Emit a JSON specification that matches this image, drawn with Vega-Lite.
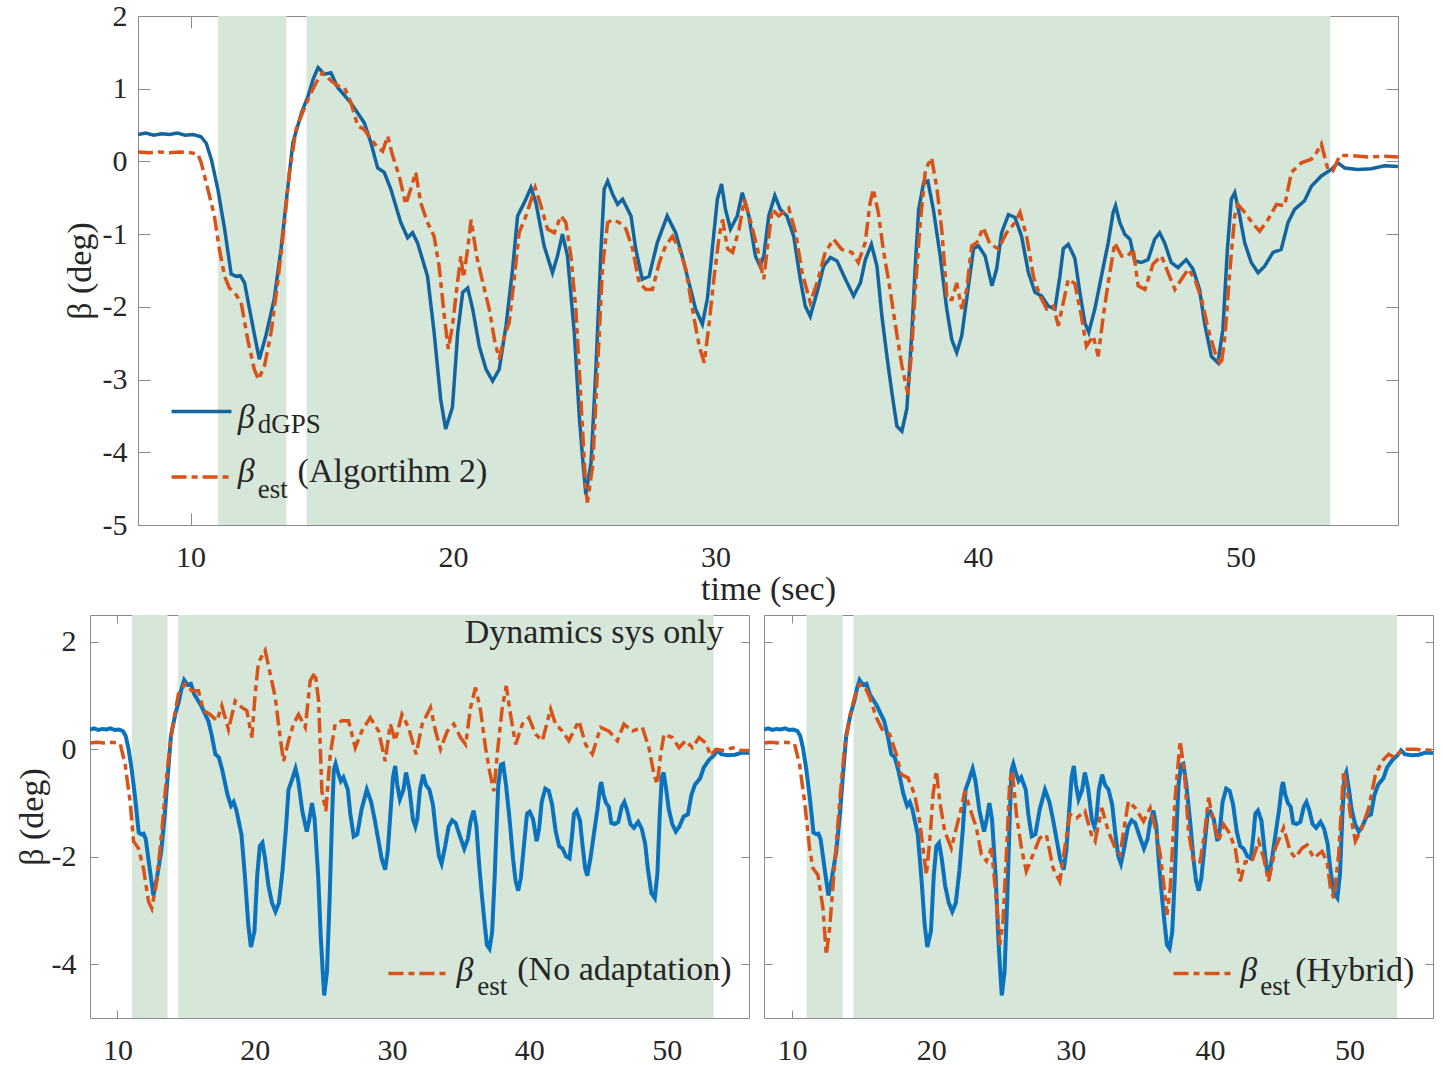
{
"$schema":"https://vega.github.io/schema/vega-lite/v6.json",
"background":"white",
"padding":{"top":1,"left":0,"right":0,"bottom":0},
"config":{"view":{"stroke":null},"font":"Liberation Serif",
"axis":{"domain":true,"domainColor":"#8a8a8a","domainWidth":1,"grid":false,"tickColor":"#8a8a8a","tickWidth":1,"labelFont":"Liberation Serif","labelFontSize":30,"labelColor":"#262626","titleFont":"Liberation Serif","titleFontSize":34,"titleFontWeight":"normal","titleColor":"#262626","labelFlush":false,"labelOverlap":false,"zindex":1,"labelExpr":"replace(datum.label,'\u2212','-')"}},
"datasets":{
"bands":[{"start":11.05,"end":13.65},{"start":14.42,"end":53.42}],
"dgps":[{"t":8.0,"b":0.37},{"t":8.3,"b":0.39},{"t":8.6,"b":0.36},{"t":8.9,"b":0.38},{"t":9.2,"b":0.37},{"t":9.5,"b":0.39},{"t":9.8,"b":0.36},{"t":10.1,"b":0.37},{"t":10.4,"b":0.34},{"t":10.6,"b":0.25},{"t":10.8,"b":0.02},{"t":11.04,"b":-0.38},{"t":11.3,"b":-0.93},{"t":11.55,"b":-1.55},{"t":11.75,"b":-1.58},{"t":11.9,"b":-1.57},{"t":12.06,"b":-1.67},{"t":12.37,"b":-2.26},{"t":12.62,"b":-2.72},{"t":12.87,"b":-2.4},{"t":13.19,"b":-1.89},{"t":13.45,"b":-1.2},{"t":13.64,"b":-0.57},{"t":13.9,"b":0.26},{"t":14.23,"b":0.67},{"t":14.48,"b":0.9},{"t":14.67,"b":1.13},{"t":14.86,"b":1.29},{"t":15.1,"b":1.2},{"t":15.35,"b":1.22},{"t":15.6,"b":1.02},{"t":16.1,"b":0.81},{"t":16.62,"b":0.53},{"t":16.87,"b":0.26},{"t":17.13,"b":-0.09},{"t":17.38,"b":-0.15},{"t":17.63,"b":-0.38},{"t":18.01,"b":-0.84},{"t":18.27,"b":-1.05},{"t":18.46,"b":-0.98},{"t":18.65,"b":-1.12},{"t":19.03,"b":-1.58},{"t":19.28,"b":-2.35},{"t":19.53,"b":-3.27},{"t":19.72,"b":-3.68},{"t":19.98,"b":-3.38},{"t":20.18,"b":-2.35},{"t":20.37,"b":-1.8},{"t":20.56,"b":-1.74},{"t":20.75,"b":-2.03},{"t":21.0,"b":-2.54},{"t":21.26,"b":-2.86},{"t":21.51,"b":-3.02},{"t":21.76,"b":-2.86},{"t":22.02,"b":-2.26},{"t":22.27,"b":-1.48},{"t":22.46,"b":-0.75},{"t":22.71,"b":-0.57},{"t":22.97,"b":-0.36},{"t":23.16,"b":-0.57},{"t":23.47,"b":-1.16},{"t":23.79,"b":-1.53},{"t":23.98,"b":-1.3},{"t":24.17,"b":-1.0},{"t":24.36,"b":-1.3},{"t":24.62,"b":-2.35},{"t":24.81,"b":-3.5},{"t":24.94,"b":-4.09},{"t":25.06,"b":-4.58},{"t":25.26,"b":-4.14},{"t":25.45,"b":-2.81},{"t":25.64,"b":-1.2},{"t":25.76,"b":-0.38},{"t":25.89,"b":-0.27},{"t":26.08,"b":-0.45},{"t":26.27,"b":-0.59},{"t":26.46,"b":-0.52},{"t":26.78,"b":-0.75},{"t":26.96,"b":-1.2},{"t":27.21,"b":-1.62},{"t":27.47,"b":-1.58},{"t":27.78,"b":-1.12},{"t":28.16,"b":-0.75},{"t":28.48,"b":-0.98},{"t":28.73,"b":-1.3},{"t":28.99,"b":-1.67},{"t":29.24,"b":-2.03},{"t":29.5,"b":-2.24},{"t":29.69,"b":-1.89},{"t":29.88,"b":-1.2},{"t":30.07,"b":-0.52},{"t":30.23,"b":-0.31},{"t":30.38,"b":-0.66},{"t":30.57,"b":-0.93},{"t":30.83,"b":-0.75},{"t":31.02,"b":-0.43},{"t":31.27,"b":-0.75},{"t":31.52,"b":-1.3},{"t":31.7,"b":-1.44},{"t":31.84,"b":-1.3},{"t":32.03,"b":-0.75},{"t":32.26,"b":-0.47},{"t":32.47,"b":-0.66},{"t":32.72,"b":-0.75},{"t":32.98,"b":-1.03},{"t":33.23,"b":-1.62},{"t":33.42,"b":-1.99},{"t":33.61,"b":-2.13},{"t":33.87,"b":-1.8},{"t":34.12,"b":-1.44},{"t":34.38,"b":-1.32},{"t":34.63,"b":-1.37},{"t":34.95,"b":-1.62},{"t":35.26,"b":-1.85},{"t":35.52,"b":-1.67},{"t":35.71,"b":-1.35},{"t":35.94,"b":-1.14},{"t":36.15,"b":-1.44},{"t":36.34,"b":-2.13},{"t":36.53,"b":-2.68},{"t":36.72,"b":-3.18},{"t":36.91,"b":-3.64},{"t":37.1,"b":-3.71},{"t":37.29,"b":-3.4},{"t":37.48,"b":-2.35},{"t":37.61,"b":-1.44},{"t":37.74,"b":-0.66},{"t":37.93,"b":-0.29},{"t":38.09,"b":-0.27},{"t":38.3,"b":-0.66},{"t":38.56,"b":-1.3},{"t":38.81,"b":-2.03},{"t":39.0,"b":-2.45},{"t":39.19,"b":-2.63},{"t":39.38,"b":-2.4},{"t":39.57,"b":-1.89},{"t":39.83,"b":-1.2},{"t":40.02,"b":-1.16},{"t":40.27,"b":-1.3},{"t":40.53,"b":-1.71},{"t":40.71,"b":-1.48},{"t":40.9,"b":-0.98},{"t":41.16,"b":-0.73},{"t":41.41,"b":-0.77},{"t":41.66,"b":-1.03},{"t":41.92,"b":-1.53},{"t":42.17,"b":-1.8},{"t":42.42,"b":-1.85},{"t":42.68,"b":-1.99},{"t":42.93,"b":-2.03},{"t":43.12,"b":-1.58},{"t":43.25,"b":-1.2},{"t":43.44,"b":-1.14},{"t":43.69,"b":-1.33},{"t":43.88,"b":-1.8},{"t":44.07,"b":-2.22},{"t":44.22,"b":-2.35},{"t":44.45,"b":-2.03},{"t":44.7,"b":-1.58},{"t":44.96,"b":-1.12},{"t":45.15,"b":-0.7},{"t":45.24,"b":-0.61},{"t":45.4,"b":-0.84},{"t":45.59,"b":-1.0},{"t":45.79,"b":-1.07},{"t":45.97,"b":-1.37},{"t":46.22,"b":-1.39},{"t":46.48,"b":-1.35},{"t":46.73,"b":-1.07},{"t":46.92,"b":-0.98},{"t":47.11,"b":-1.12},{"t":47.36,"b":-1.39},{"t":47.62,"b":-1.46},{"t":47.93,"b":-1.35},{"t":48.19,"b":-1.48},{"t":48.44,"b":-1.76},{"t":48.63,"b":-2.22},{"t":48.89,"b":-2.68},{"t":49.14,"b":-2.77},{"t":49.33,"b":-2.31},{"t":49.5,"b":-1.21},{"t":49.65,"b":-0.52},{"t":49.78,"b":-0.43},{"t":49.97,"b":-0.75},{"t":50.16,"b":-1.12},{"t":50.41,"b":-1.39},{"t":50.67,"b":-1.53},{"t":50.92,"b":-1.44},{"t":51.24,"b":-1.25},{"t":51.55,"b":-1.21},{"t":51.81,"b":-0.84},{"t":52.06,"b":-0.66},{"t":52.44,"b":-0.54},{"t":52.7,"b":-0.34},{"t":53.08,"b":-0.2},{"t":53.46,"b":-0.11},{"t":53.71,"b":-0.02},{"t":53.97,"b":-0.09},{"t":54.47,"b":-0.11},{"t":54.98,"b":-0.1},{"t":55.49,"b":-0.06},{"t":56.0,"b":-0.07}],
"alg2":[{"t":8.0,"b":0.13},{"t":8.4,"b":0.12},{"t":8.8,"b":0.13},{"t":9.2,"b":0.12},{"t":9.6,"b":0.13},{"t":10.0,"b":0.12},{"t":10.28,"b":0.1},{"t":10.41,"b":-0.02},{"t":10.66,"b":-0.38},{"t":10.91,"b":-0.75},{"t":11.1,"b":-1.21},{"t":11.3,"b":-1.58},{"t":11.48,"b":-1.74},{"t":11.73,"b":-1.83},{"t":11.93,"b":-1.94},{"t":12.18,"b":-2.45},{"t":12.43,"b":-2.86},{"t":12.59,"b":-3.0},{"t":12.82,"b":-2.81},{"t":13.07,"b":-2.35},{"t":13.32,"b":-1.67},{"t":13.58,"b":-0.84},{"t":13.77,"b":-0.15},{"t":14.02,"b":0.44},{"t":14.27,"b":0.67},{"t":14.53,"b":0.9},{"t":14.78,"b":1.08},{"t":15.03,"b":1.22},{"t":15.29,"b":1.13},{"t":15.6,"b":1.04},{"t":15.86,"b":1.02},{"t":16.11,"b":0.81},{"t":16.37,"b":0.49},{"t":16.62,"b":0.44},{"t":16.87,"b":0.31},{"t":17.13,"b":0.19},{"t":17.32,"b":0.14},{"t":17.51,"b":0.35},{"t":17.7,"b":0.08},{"t":17.95,"b":-0.2},{"t":18.2,"b":-0.59},{"t":18.39,"b":-0.38},{"t":18.58,"b":-0.15},{"t":18.77,"b":-0.57},{"t":19.03,"b":-0.84},{"t":19.28,"b":-1.03},{"t":19.47,"b":-1.44},{"t":19.67,"b":-2.13},{"t":19.82,"b":-2.58},{"t":19.98,"b":-2.26},{"t":20.14,"b":-1.76},{"t":20.3,"b":-1.3},{"t":20.4,"b":-1.6},{"t":20.56,"b":-1.2},{"t":20.69,"b":-0.8},{"t":20.9,"b":-1.3},{"t":21.14,"b":-1.67},{"t":21.38,"b":-2.03},{"t":21.58,"b":-2.45},{"t":21.76,"b":-2.72},{"t":21.96,"b":-2.4},{"t":22.14,"b":-2.22},{"t":22.33,"b":-1.62},{"t":22.52,"b":-0.98},{"t":22.78,"b":-0.75},{"t":23.13,"b":-0.36},{"t":23.35,"b":-0.61},{"t":23.6,"b":-0.93},{"t":23.86,"b":-0.98},{"t":24.11,"b":-0.75},{"t":24.3,"b":-0.84},{"t":24.49,"b":-1.3},{"t":24.68,"b":-2.03},{"t":24.87,"b":-3.27},{"t":25.06,"b":-4.51},{"t":25.12,"b":-4.69},{"t":25.32,"b":-4.19},{"t":25.51,"b":-2.81},{"t":25.7,"b":-1.44},{"t":25.89,"b":-0.84},{"t":26.08,"b":-0.8},{"t":26.33,"b":-0.84},{"t":26.59,"b":-0.93},{"t":26.84,"b":-1.2},{"t":27.09,"b":-1.67},{"t":27.35,"b":-1.76},{"t":27.6,"b":-1.76},{"t":27.86,"b":-1.39},{"t":28.1,"b":-1.16},{"t":28.36,"b":-1.03},{"t":28.62,"b":-1.2},{"t":28.87,"b":-1.48},{"t":29.12,"b":-2.03},{"t":29.38,"b":-2.54},{"t":29.57,"b":-2.77},{"t":29.76,"b":-2.22},{"t":29.95,"b":-1.58},{"t":30.14,"b":-1.03},{"t":30.27,"b":-0.8},{"t":30.46,"b":-1.2},{"t":30.65,"b":-1.25},{"t":30.9,"b":-0.93},{"t":31.1,"b":-0.52},{"t":31.35,"b":-0.84},{"t":31.6,"b":-1.2},{"t":31.75,"b":-1.48},{"t":31.84,"b":-1.62},{"t":31.97,"b":-1.2},{"t":32.16,"b":-0.66},{"t":32.41,"b":-0.75},{"t":32.79,"b":-0.64},{"t":33.05,"b":-0.98},{"t":33.3,"b":-1.53},{"t":33.61,"b":-1.94},{"t":33.87,"b":-1.67},{"t":34.18,"b":-1.25},{"t":34.5,"b":-1.07},{"t":34.81,"b":-1.21},{"t":35.19,"b":-1.25},{"t":35.44,"b":-1.39},{"t":35.7,"b":-1.12},{"t":35.89,"b":-0.57},{"t":36.01,"b":-0.38},{"t":36.2,"b":-0.7},{"t":36.39,"b":-1.21},{"t":36.65,"b":-1.76},{"t":36.84,"b":-2.22},{"t":37.1,"b":-2.81},{"t":37.33,"b":-3.2},{"t":37.48,"b":-2.58},{"t":37.61,"b":-1.76},{"t":37.8,"b":-0.84},{"t":38.0,"b":-0.11},{"t":38.23,"b":0.05},{"t":38.44,"b":-0.38},{"t":38.63,"b":-0.98},{"t":38.82,"b":-1.9},{"t":39.01,"b":-1.9},{"t":39.19,"b":-1.67},{"t":39.38,"b":-2.03},{"t":39.57,"b":-1.76},{"t":39.76,"b":-1.16},{"t":39.95,"b":-1.12},{"t":40.2,"b":-0.91},{"t":40.46,"b":-1.14},{"t":40.78,"b":-1.2},{"t":41.09,"b":-0.98},{"t":41.41,"b":-0.84},{"t":41.6,"b":-0.7},{"t":41.85,"b":-1.03},{"t":42.11,"b":-1.58},{"t":42.36,"b":-1.85},{"t":42.62,"b":-2.03},{"t":42.87,"b":-1.99},{"t":43.06,"b":-2.26},{"t":43.25,"b":-1.94},{"t":43.44,"b":-1.62},{"t":43.69,"b":-1.68},{"t":43.94,"b":-2.13},{"t":44.13,"b":-2.54},{"t":44.39,"b":-2.4},{"t":44.58,"b":-2.68},{"t":44.77,"b":-2.13},{"t":44.96,"b":-1.67},{"t":45.21,"b":-1.12},{"t":45.47,"b":-1.3},{"t":45.72,"b":-1.3},{"t":45.91,"b":-1.2},{"t":46.1,"b":-1.71},{"t":46.36,"b":-1.76},{"t":46.67,"b":-1.41},{"t":46.99,"b":-1.3},{"t":47.24,"b":-1.53},{"t":47.5,"b":-1.76},{"t":47.75,"b":-1.62},{"t":48.01,"b":-1.48},{"t":48.26,"b":-1.62},{"t":48.52,"b":-1.9},{"t":48.77,"b":-2.31},{"t":49.03,"b":-2.63},{"t":49.26,"b":-2.81},{"t":49.41,"b":-2.4},{"t":49.6,"b":-1.48},{"t":49.78,"b":-0.75},{"t":49.9,"b":-0.59},{"t":50.16,"b":-0.7},{"t":50.48,"b":-0.86},{"t":50.73,"b":-0.96},{"t":51.05,"b":-0.8},{"t":51.37,"b":-0.59},{"t":51.68,"b":-0.61},{"t":51.94,"b":-0.15},{"t":52.32,"b":-0.02},{"t":52.7,"b":0.03},{"t":52.89,"b":0.12},{"t":53.08,"b":0.24},{"t":53.33,"b":-0.11},{"t":53.52,"b":-0.13},{"t":53.78,"b":0.08},{"t":54.22,"b":0.08},{"t":54.86,"b":0.06},{"t":55.49,"b":0.07},{"t":56.0,"b":0.06}],
"noadapt":[{"t":8.0,"b":0.12},{"t":8.5,"b":0.13},{"t":9.0,"b":0.12},{"t":9.5,"b":0.13},{"t":10.0,"b":0.12},{"t":10.2,"b":0.1},{"t":10.56,"b":-0.28},{"t":10.92,"b":-0.97},{"t":11.17,"b":-1.71},{"t":11.53,"b":-1.84},{"t":11.89,"b":-2.21},{"t":12.26,"b":-2.83},{"t":12.5,"b":-2.96},{"t":12.86,"b":-2.46},{"t":13.23,"b":-1.53},{"t":13.59,"b":-0.47},{"t":13.96,"b":0.34},{"t":14.44,"b":1.03},{"t":14.93,"b":1.22},{"t":15.41,"b":1.09},{"t":15.9,"b":1.09},{"t":16.27,"b":0.72},{"t":16.75,"b":0.65},{"t":17.24,"b":0.53},{"t":17.6,"b":0.81},{"t":18.09,"b":0.37},{"t":18.58,"b":0.9},{"t":19.06,"b":0.78},{"t":19.42,"b":0.72},{"t":19.79,"b":0.22},{"t":20.03,"b":1.03},{"t":20.27,"b":1.62},{"t":20.76,"b":1.84},{"t":21.13,"b":1.4},{"t":21.49,"b":0.97},{"t":21.85,"b":0.22},{"t":22.1,"b":-0.22},{"t":22.46,"b":0.16},{"t":22.82,"b":0.47},{"t":23.19,"b":0.65},{"t":23.68,"b":0.41},{"t":24.04,"b":1.28},{"t":24.4,"b":1.43},{"t":24.65,"b":0.9},{"t":24.89,"b":-0.78},{"t":25.18,"b":-1.15},{"t":25.5,"b":-0.09},{"t":25.86,"b":0.47},{"t":26.35,"b":0.53},{"t":26.83,"b":0.53},{"t":27.32,"b":0.03},{"t":27.8,"b":0.34},{"t":28.41,"b":0.59},{"t":29.02,"b":0.34},{"t":29.5,"b":-0.22},{"t":29.87,"b":0.47},{"t":30.23,"b":0.16},{"t":30.72,"b":0.65},{"t":31.2,"b":0.41},{"t":31.75,"b":-0.09},{"t":32.2,"b":0.47},{"t":32.8,"b":0.78},{"t":33.17,"b":0.34},{"t":33.53,"b":0.0},{"t":34.02,"b":0.34},{"t":34.5,"b":0.47},{"t":34.99,"b":0.22},{"t":35.36,"b":0.09},{"t":35.72,"b":0.78},{"t":36.08,"b":1.15},{"t":36.45,"b":0.72},{"t":36.81,"b":0.03},{"t":37.1,"b":-0.4},{"t":37.42,"b":-0.78},{"t":37.66,"b":-0.09},{"t":38.03,"b":0.78},{"t":38.32,"b":1.18},{"t":38.63,"b":0.65},{"t":39.0,"b":0.09},{"t":39.49,"b":0.47},{"t":39.97,"b":0.59},{"t":40.46,"b":0.28},{"t":40.95,"b":0.16},{"t":41.55,"b":0.75},{"t":41.91,"b":0.47},{"t":42.4,"b":0.34},{"t":42.88,"b":0.16},{"t":43.61,"b":0.53},{"t":44.1,"b":0.09},{"t":44.59,"b":-0.09},{"t":45.19,"b":0.41},{"t":45.8,"b":0.34},{"t":46.41,"b":0.16},{"t":46.89,"b":0.47},{"t":47.5,"b":0.34},{"t":48.23,"b":0.41},{"t":48.71,"b":0.03},{"t":49.08,"b":-0.47},{"t":49.32,"b":-0.65},{"t":49.57,"b":-0.09},{"t":49.81,"b":0.28},{"t":50.42,"b":0.22},{"t":50.9,"b":0.03},{"t":51.39,"b":0.16},{"t":51.88,"b":0.03},{"t":52.36,"b":0.22},{"t":52.85,"b":0.12},{"t":53.21,"b":-0.12},{"t":53.58,"b":0.0},{"t":54.2,"b":-0.02},{"t":54.8,"b":0.03},{"t":55.4,"b":-0.02},{"t":56.0,"b":-0.02}],
"hybrid":[{"t":8.0,"b":0.12},{"t":8.5,"b":0.13},{"t":9.0,"b":0.12},{"t":9.5,"b":0.13},{"t":10.0,"b":0.12},{"t":10.19,"b":0.1},{"t":10.55,"b":-0.28},{"t":10.91,"b":-0.97},{"t":11.27,"b":-1.84},{"t":11.51,"b":-2.21},{"t":11.87,"b":-2.34},{"t":12.23,"b":-2.96},{"t":12.47,"b":-3.83},{"t":12.71,"b":-3.33},{"t":13.07,"b":-2.15},{"t":13.43,"b":-0.97},{"t":13.78,"b":0.03},{"t":14.14,"b":0.59},{"t":14.5,"b":0.97},{"t":14.86,"b":1.21},{"t":15.22,"b":1.18},{"t":15.58,"b":0.97},{"t":16.06,"b":0.59},{"t":16.54,"b":0.34},{"t":17.02,"b":0.28},{"t":17.49,"b":-0.09},{"t":17.85,"b":-0.47},{"t":18.33,"b":-0.53},{"t":18.81,"b":-0.84},{"t":19.17,"b":-1.34},{"t":19.41,"b":-1.84},{"t":19.65,"b":-2.34},{"t":19.89,"b":-1.71},{"t":20.13,"b":-0.84},{"t":20.37,"b":-0.4},{"t":20.61,"b":-0.97},{"t":20.97,"b":-1.53},{"t":21.44,"b":-1.84},{"t":21.8,"b":-1.46},{"t":22.16,"b":-1.09},{"t":22.4,"b":-0.78},{"t":22.76,"b":-1.09},{"t":23.24,"b":-1.46},{"t":23.6,"b":-1.96},{"t":23.96,"b":-2.08},{"t":24.32,"b":-1.84},{"t":24.68,"b":-2.83},{"t":24.92,"b":-3.64},{"t":25.15,"b":-3.21},{"t":25.39,"b":-1.96},{"t":25.63,"b":-0.59},{"t":25.82,"b":-0.4},{"t":26.11,"b":-1.21},{"t":26.47,"b":-1.84},{"t":26.82,"b":-2.27},{"t":27.3,"b":-1.96},{"t":27.78,"b":-1.65},{"t":28.26,"b":-1.59},{"t":28.74,"b":-2.21},{"t":29.22,"b":-2.46},{"t":29.58,"b":-1.84},{"t":29.94,"b":-1.21},{"t":30.42,"b":-1.28},{"t":31.02,"b":-1.15},{"t":31.5,"b":-1.59},{"t":31.76,"b":-1.71},{"t":32.24,"b":-1.09},{"t":32.71,"b":-1.53},{"t":33.2,"b":-1.84},{"t":33.55,"b":-1.96},{"t":33.91,"b":-1.34},{"t":34.15,"b":-0.97},{"t":34.63,"b":-1.09},{"t":35.23,"b":-1.34},{"t":35.71,"b":-1.09},{"t":36.07,"b":-1.46},{"t":36.43,"b":-1.96},{"t":36.66,"b":-2.46},{"t":36.91,"b":-3.08},{"t":37.15,"b":-2.58},{"t":37.5,"b":-0.9},{"t":37.86,"b":0.16},{"t":38.18,"b":-0.47},{"t":38.46,"b":-1.53},{"t":38.82,"b":-2.09},{"t":39.3,"b":-2.09},{"t":39.66,"b":-1.46},{"t":39.9,"b":-0.9},{"t":40.25,"b":-1.34},{"t":40.62,"b":-1.71},{"t":40.98,"b":-1.4},{"t":41.33,"b":-1.53},{"t":41.81,"b":-1.84},{"t":42.17,"b":-2.46},{"t":42.53,"b":-2.09},{"t":43.01,"b":-2.09},{"t":43.49,"b":-1.71},{"t":43.85,"b":-2.02},{"t":44.2,"b":-2.46},{"t":44.69,"b":-1.84},{"t":45.28,"b":-1.46},{"t":45.76,"b":-1.9},{"t":46.12,"b":-2.02},{"t":46.6,"b":-1.84},{"t":46.96,"b":-1.78},{"t":47.44,"b":-2.02},{"t":48.04,"b":-1.9},{"t":48.4,"b":-2.09},{"t":48.64,"b":-2.58},{"t":48.88,"b":-2.77},{"t":49.23,"b":-1.96},{"t":49.59,"b":-0.4},{"t":49.83,"b":-0.72},{"t":50.07,"b":-1.21},{"t":50.43,"b":-1.71},{"t":50.91,"b":-1.46},{"t":51.39,"b":-1.09},{"t":51.87,"b":-0.47},{"t":52.35,"b":-0.22},{"t":52.82,"b":-0.09},{"t":53.3,"b":-0.16},{"t":53.78,"b":0.0},{"t":54.74,"b":0.0},{"t":56.0,"b":-0.02}]
},
"spacing":8,
"vconcat":[
{"spacing":0,"bounds":"flush",
"hconcat":[
{"width":47.5,"height":509,"data":{"values":[]},"mark":"point"},
{"width":1260,"height":509,
"resolve":{"axis":{"x":"independent","y":"independent"}},
"layer":[
{"data":{"name":"bands"},"mark":{"type":"rect","color":"#d6e6d8"},
"encoding":{"x":{"field":"start","type":"quantitative","scale":{"domain":[8,56],"nice":false,"zero":false},"axis":{"orient":"bottom","values":[10,20,30,40,50],"tickSize":-12,"labelPadding":29,"title":"time (sec)","titleX":630,"titleY":74,"titleBaseline":"alphabetic","titleAlign":"center","minExtent":0}},"x2":{"field":"end"}}},
{"data":{"name":"dgps"},"mark":{"type":"line","color":"#13659f","strokeWidth":3.5,"clip":true},
"encoding":{"x":{"field":"t","type":"quantitative","axis":null},"y":{"field":"b","type":"quantitative","scale":{"domain":[-5,2],"nice":false,"zero":false},"axis":{"orient":"left","values":[-5,-4,-3,-2,-1,0,1,2],"tickSize":-12,"labelPadding":23,"title":"β (deg)","titleX":-48,"titleY":254.5,"titleBaseline":"alphabetic","titleAngle":270,"titleAlign":"center","minExtent":60,"maxExtent":60}}}},
{"data":{"name":"alg2"},"mark":{"type":"line","color":"#d95319","strokeWidth":3.5,"strokeDash":[15,5,6,5],"clip":true},
"encoding":{"x":{"field":"t","type":"quantitative","axis":{"orient":"top","values":[10,20,30,40,50],"tickSize":-12,"labels":false,"title":null,"minExtent":0,"maxExtent":0}},"y":{"field":"b","type":"quantitative","axis":{"orient":"right","values":[-5,-4,-3,-2,-1,0,1,2],"tickSize":-12,"labels":false,"title":null,"minExtent":0,"maxExtent":0}}}},
{"data":{"values":[{}]},"mark":{"type":"rule","color":"#13659f","strokeWidth":3.5},
"encoding":{"x":{"datum":9.28,"type":"quantitative","axis":null},"x2":{"datum":11.56},"y":{"datum":-3.44,"type":"quantitative","axis":null}}},
{"data":{"values":[{}]},"mark":{"type":"rule","color":"#d95319","strokeWidth":3.5,"strokeDash":[15,5,6,5]},
"encoding":{"x":{"datum":9.28,"type":"quantitative","axis":null},"x2":{"datum":11.56},"y":{"datum":-4.34,"type":"quantitative","axis":null}}},
{"data":{"values":[{}]},"mark":{"type":"text","text":"β","font":"Liberation Serif","fontSize":34,"fontStyle":"italic","align":"left","baseline":"alphabetic","color":"#262626"},
"encoding":{"x":{"datum":11.8,"type":"quantitative","axis":null},"y":{"datum":-3.666,"type":"quantitative","axis":null}}},
{"data":{"values":[{}]},"mark":{"type":"text","text":"dGPS","font":"Liberation Serif","fontSize":27,"align":"left","baseline":"alphabetic","color":"#262626"},
"encoding":{"x":{"datum":12.56,"type":"quantitative","axis":null},"y":{"datum":-3.735,"type":"quantitative","axis":null}}},
{"data":{"values":[{}]},"mark":{"type":"text","text":"β","font":"Liberation Serif","fontSize":34,"fontStyle":"italic","align":"left","baseline":"alphabetic","color":"#262626"},
"encoding":{"x":{"datum":11.8,"type":"quantitative","axis":null},"y":{"datum":-4.41,"type":"quantitative","axis":null}}},
{"data":{"values":[{}]},"mark":{"type":"text","text":"est","font":"Liberation Serif","fontSize":27,"align":"left","baseline":"alphabetic","color":"#262626"},
"encoding":{"x":{"datum":12.56,"type":"quantitative","axis":null},"y":{"datum":-4.63,"type":"quantitative","axis":null}}},
{"data":{"values":[{}]},"mark":{"type":"text","text":"(Algortihm 2)","font":"Liberation Serif","fontSize":34,"align":"left","baseline":"alphabetic","color":"#262626"},
"encoding":{"x":{"datum":14.08,"type":"quantitative","axis":null},"y":{"datum":-4.41,"type":"quantitative","axis":null}}}
]}
]},
{"spacing":13,
"hconcat":[
{"width":659,"height":403,
"resolve":{"axis":{"x":"independent","y":"independent"}},
"layer":[
{"data":{"name":"bands"},"mark":{"type":"rect","color":"#d6e6d8"},
"encoding":{"x":{"field":"start","type":"quantitative","scale":{"domain":[8,56],"nice":false,"zero":false},"axis":{"orient":"bottom","values":[10,20,30,40,50],"tickSize":-8,"labelPadding":25,"title":null,"minExtent":0}},"x2":{"field":"end"}}},
{"data":{"name":"dgps"},"mark":{"type":"line","color":"#0b72bd","strokeWidth":4,"clip":true},
"encoding":{"x":{"field":"t","type":"quantitative","axis":null},"y":{"field":"b","type":"quantitative","scale":{"domain":[-5,2.5],"nice":false,"zero":false},"axis":{"orient":"left","values":[-4,-2,0,2],"tickSize":-8,"labelPadding":22,"title":"β (deg)","titleX":-48,"titleY":201.5,"titleBaseline":"alphabetic","titleAngle":270,"titleAlign":"center","minExtent":89.5,"maxExtent":89.5}}}},
{"data":{"name":"noadapt"},"mark":{"type":"line","color":"#d95319","strokeWidth":3.5,"strokeDash":[15,5,6,5],"clip":true},
"encoding":{"x":{"field":"t","type":"quantitative","axis":{"orient":"top","values":[10,20,30,40,50],"tickSize":-8,"labels":false,"title":null,"minExtent":0,"maxExtent":0}},"y":{"field":"b","type":"quantitative","axis":{"orient":"right","values":[-4,-2,0,2],"tickSize":-8,"labels":false,"title":null,"minExtent":0,"maxExtent":0}}}},
{"data":{"values":[{}]},"mark":{"type":"rule","color":"#d95319","strokeWidth":3.5,"strokeDash":[15,5,6,5]},
"encoding":{"x":{"datum":29.74,"type":"quantitative","axis":null},"x2":{"datum":34.26},"y":{"datum":-4.17,"type":"quantitative","axis":null}}},
{"data":{"values":[{}]},"mark":{"type":"text","text":"β","font":"Liberation Serif","fontSize":34,"fontStyle":"italic","align":"left","baseline":"alphabetic","color":"#262626"},
"encoding":{"x":{"datum":34.7,"type":"quantitative","axis":null},"y":{"datum":-4.32,"type":"quantitative","axis":null}}},
{"data":{"values":[{}]},"mark":{"type":"text","text":"est","font":"Liberation Serif","fontSize":27,"align":"left","baseline":"alphabetic","color":"#262626"},
"encoding":{"x":{"datum":36.21,"type":"quantitative","axis":null},"y":{"datum":-4.57,"type":"quantitative","axis":null}}},
{"data":{"values":[{}]},"mark":{"type":"text","text":"(No adaptation)","font":"Liberation Serif","fontSize":34,"align":"left","baseline":"alphabetic","color":"#262626"},
"encoding":{"x":{"datum":39.12,"type":"quantitative","axis":null},"y":{"datum":-4.3,"type":"quantitative","axis":null}}},
{"data":{"values":[{}]},"mark":{"type":"text","text":"Dynamics sys only","font":"Liberation Serif","fontSize":34,"align":"right","baseline":"alphabetic","color":"#262626"},
"encoding":{"x":{"datum":54.15,"type":"quantitative","axis":null},"y":{"datum":1.98,"type":"quantitative","axis":null}}}
]},
{"width":669,"height":403,
"resolve":{"axis":{"x":"independent","y":"independent"}},
"layer":[
{"data":{"name":"bands"},"mark":{"type":"rect","color":"#d6e6d8"},
"encoding":{"x":{"field":"start","type":"quantitative","scale":{"domain":[8,56],"nice":false,"zero":false},"axis":{"orient":"bottom","values":[10,20,30,40,50],"tickSize":-8,"labelPadding":25,"title":null,"minExtent":0}},"x2":{"field":"end"}}},
{"data":{"name":"dgps"},"mark":{"type":"line","color":"#0b72bd","strokeWidth":4,"clip":true},
"encoding":{"x":{"field":"t","type":"quantitative","axis":null},"y":{"field":"b","type":"quantitative","scale":{"domain":[-5,2.5],"nice":false,"zero":false},"axis":{"orient":"left","values":[-4,-2,0,2],"tickSize":-8,"labels":false,"title":null,"minExtent":0,"maxExtent":0}}}},
{"data":{"name":"hybrid"},"mark":{"type":"line","color":"#d95319","strokeWidth":3.5,"strokeDash":[15,5,6,5],"clip":true},
"encoding":{"x":{"field":"t","type":"quantitative","axis":{"orient":"top","values":[10,20,30,40,50],"tickSize":-8,"labels":false,"title":null,"minExtent":0,"maxExtent":0}},"y":{"field":"b","type":"quantitative","axis":{"orient":"right","values":[-4,-2,0,2],"tickSize":-8,"labels":false,"title":null,"minExtent":0,"maxExtent":0}}}},
{"data":{"values":[{}]},"mark":{"type":"rule","color":"#d95319","strokeWidth":3.5,"strokeDash":[15,5,6,5]},
"encoding":{"x":{"datum":37.38,"type":"quantitative","axis":null},"x2":{"datum":41.81},"y":{"datum":-4.17,"type":"quantitative","axis":null}}},
{"data":{"values":[{}]},"mark":{"type":"text","text":"β","font":"Liberation Serif","fontSize":34,"fontStyle":"italic","align":"left","baseline":"alphabetic","color":"#262626"},
"encoding":{"x":{"datum":42.17,"type":"quantitative","axis":null},"y":{"datum":-4.32,"type":"quantitative","axis":null}}},
{"data":{"values":[{}]},"mark":{"type":"text","text":"est","font":"Liberation Serif","fontSize":27,"align":"left","baseline":"alphabetic","color":"#262626"},
"encoding":{"x":{"datum":43.61,"type":"quantitative","axis":null},"y":{"datum":-4.57,"type":"quantitative","axis":null}}},
{"data":{"values":[{}]},"mark":{"type":"text","text":"(Hybrid)","font":"Liberation Serif","fontSize":34,"align":"left","baseline":"alphabetic","color":"#262626"},
"encoding":{"x":{"datum":46.12,"type":"quantitative","axis":null},"y":{"datum":-4.32,"type":"quantitative","axis":null}}}
]}
]}
]}
